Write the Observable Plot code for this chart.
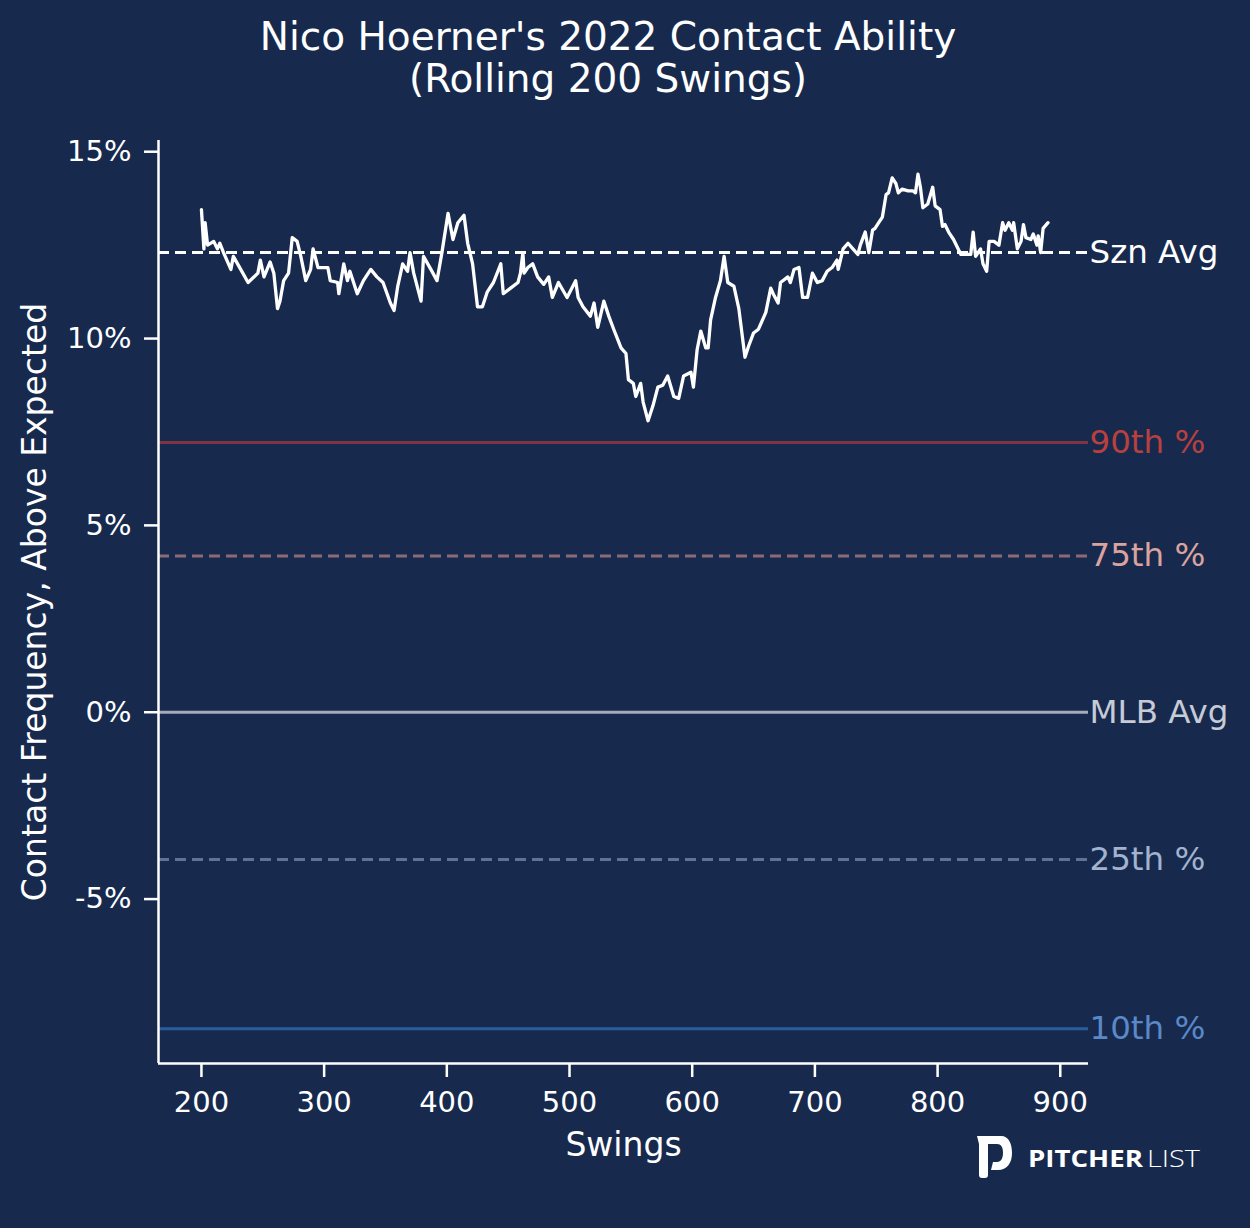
<!DOCTYPE html>
<html>
<head>
<meta charset="utf-8">
<script src="https://cdn.jsdelivr.net/npm/d3@7"></script>
<script src="https://cdn.jsdelivr.net/npm/@observablehq/plot@0.6"></script>
<style>
  html, body { margin: 0; padding: 0; background: #172a4e; }
  #wrap { position: relative; width: 1250px; height: 1228px; background: #172a4e; font-family: "DejaVu Sans", sans-serif; overflow: hidden; }
  #title { box-sizing: border-box; width: 1216px; height: 130px; padding-top: 16px; text-align: center; color: #ffffff; font-size: 39px; line-height: 42px; }
  #logo { position: absolute; left: 976px; top: 1134px; width: 240px; height: 48px; }
</style>
</head>
<body>
<div id="wrap">
  <div id="title">Nico Hoerner's 2022 Contact Ability<br>(Rolling 200 Swings)</div>
  <div id="chart"></div>
  <svg id="logo" viewBox="0 0 240 48" xmlns="http://www.w3.org/2000/svg">
    <path fill="#ffffff" d="M1,2 L25,2 C33,2 36,10 36,19 C36,29 31,36 22,36 L15,36 L17,28 L21,28 C25,28 27,24 27,19 C27,13 25,10 21,10 L12,10 L12,41 C12,43 11,44 9,44 L6,44 C4,44 3,43 3,41 L3,10 Z"/>
    <text x="52" y="33" fill="#ffffff" font-family="'Open Sans', Lato, sans-serif" font-weight="700" font-size="23" textLength="115" lengthAdjust="spacingAndGlyphs">PITCHER</text>
    <text x="171" y="33" fill="#ffffff" font-family="'Open Sans', Lato, sans-serif" font-weight="300" font-size="23" textLength="53" lengthAdjust="spacingAndGlyphs">LIST</text>
  </svg>
</div>
<script>
// ---- data ----
const swings = [
  200,202,203,205,210,213,215,218,224,226,232,238,246,248,251,256,259,262,264,267,
  271,274,278,281,285,289,291,295,303,305,311,312,316,319,321,324,327,332,338,343,
  348,354,357,360,364,368,370,373,379,381,387,392,396,401,405,409,414,417,421,425,
  429,433,438,444,446,452,458,460,462,463,466,470,474,479,483,486,491,498,505,507,
  511,517,520,523,528,532,536,542,546,548,552,554,558,560,564,568,572,576,580,585,
  589,593,599,601,604,607,611,613,615,619,623,626,629,634,638,643,646,650,654,660,
  664,666,670,672,678,680,683,687,690,694,698,702,706,710,714,718,719,723,727,731,
  735,737,741,744,747,749,752,755,758,760,763,766,768,771,776,780,782,784,786,788,
  792,796,798,802,804,806,809,813,816,819,827,829,831,835,837,840,842,846,850,853,
  855,858,861,862,865,868,870,872,876,878,881,882,884,886,890
];
const contactAboveExpected = [
  13.45,12.4,13.1,12.5,12.6,12.4,12.55,12.3,11.85,12.2,11.85,11.5,11.75,12.1,11.65,12.05,11.75,10.8,11.0,11.55,
  11.75,12.7,12.6,12.2,11.55,11.85,12.4,11.9,11.9,11.55,11.5,11.2,12.0,11.55,11.8,11.5,11.2,11.55,11.85,11.65,
  11.5,10.95,10.75,11.4,12.0,11.8,12.3,11.75,11.0,12.2,11.85,11.55,12.3,13.35,12.65,13.1,13.3,12.55,12.0,10.85,
  10.85,11.25,11.5,12.0,11.2,11.35,11.5,11.75,12.3,11.75,11.9,12.0,11.65,11.45,11.65,11.1,11.5,11.1,11.55,11.1,
  10.85,10.6,10.95,10.3,11.0,10.6,10.25,9.75,9.6,8.9,8.8,8.45,8.8,8.3,7.8,8.2,8.7,8.75,9.0,8.45,
  8.4,9.0,9.1,8.7,9.7,10.2,9.75,9.75,10.5,11.1,11.55,12.2,11.5,11.4,10.8,9.5,9.8,10.15,10.25,10.7,
  11.35,11.2,10.95,11.5,11.65,11.5,11.85,11.9,11.1,11.1,11.75,11.5,11.55,11.8,11.9,12.1,11.85,12.4,12.55,12.4,
  12.25,12.5,12.85,12.3,12.9,12.95,13.1,13.25,13.85,13.9,14.3,14.15,13.9,14.0,13.95,13.95,13.9,14.4,14.05,13.5,
  13.6,14.05,13.55,13.45,13.0,13.05,12.85,12.65,12.45,12.25,12.25,12.85,12.2,12.4,12.0,11.8,12.6,12.6,12.5,13.1,
  12.9,13.1,12.9,13.1,12.4,12.6,13.05,12.7,12.65,12.8,12.5,12.75,12.3,12.95,13.1
];
const refLabels = ["Szn Avg", "90th %", "75th %", "MLB Avg", "25th %", "10th %"];
const refValues = [12.3, 7.22, 4.18, 0, -3.94, -8.47];
const xTicks = [200, 300, 400, 500, 600, 700, 800, 900];
const yTicks = [-5, 0, 5, 10, 15];

// ---- styles (not data) ----
const refStyles = [
  {line: "#ffffff", text: "#ffffff", dash: "11,6"},
  {line: "#7c3446", text: "#b8403f", dash: null},
  {line: "#8c6a75", text: "#dba39e", dash: "11,6"},
  {line: "#a4abb9", text: "#c6cbd6", dash: null},
  {line: "#5f7393", text: "#a2b3cf", dash: "11,6"},
  {line: "#2b5b9f", text: "#5b88c7", dash: null}
];

const series = swings.map((s, i) => ({swing: s, value: contactAboveExpected[i]}));
const refs = refLabels.map((label, i) => ({label, value: refValues[i], ...refStyles[i]}));

const marks = [];
refs.forEach(r => {
  marks.push(Plot.ruleY([r], {y: "value", stroke: r.line, strokeWidth: 3, strokeDasharray: r.dash || undefined}));
});
marks.push(Plot.line(series, {x: "swing", y: "value", stroke: "#ffffff", strokeWidth: 3.3, strokeLinejoin: "round", strokeLinecap: "round"}));
refs.forEach(r => {
  marks.push(Plot.text([r], {y: "value", text: "label", frameAnchor: "right", textAnchor: "start", dx: 1, fill: r.text, fontSize: 32.5}));
});
marks.push(Plot.ruleX([165], {stroke: "#ffffff", strokeWidth: 2.5}));
marks.push(Plot.ruleY([-9.4], {stroke: "#ffffff", strokeWidth: 2.5}));
marks.push(Plot.axisX({ticks: xTicks, tickSize: 14, tickPadding: 14, tickFormat: d => String(d), label: null, stroke: "#ffffff", strokeWidth: 2.5, fill: "#ffffff", fontSize: 29}));
marks.push(Plot.axisY({ticks: yTicks, tickSize: 14, tickPadding: 13, tickFormat: d => d + "%", label: null, stroke: "#ffffff", strokeWidth: 2.5, fill: "#ffffff", fontSize: 29}));
marks.push(Plot.text(["Swings"], {text: d => d, frameAnchor: "bottom", dy: 92, fill: "#ffffff", fontSize: 33}));
marks.push(Plot.text(["Contact Frequency, Above Expected"], {text: d => d, frameAnchor: "left", textAnchor: "middle", rotate: -90, dx: -123, fill: "#ffffff", fontSize: 33}));

const chart = Plot.plot({
  width: 1250,
  height: 1098,
  marginLeft: 158,
  marginRight: 162,
  marginTop: 10,
  marginBottom: 165,
  style: {background: "transparent", color: "#ffffff", fontFamily: "DejaVu Sans, sans-serif", fontSize: "29px", overflow: "visible"},
  x: {domain: [165, 923]},
  y: {domain: [-9.4, 15.3]},
  marks
});
document.getElementById("chart").appendChild(chart);
</script>
</body>
</html>
